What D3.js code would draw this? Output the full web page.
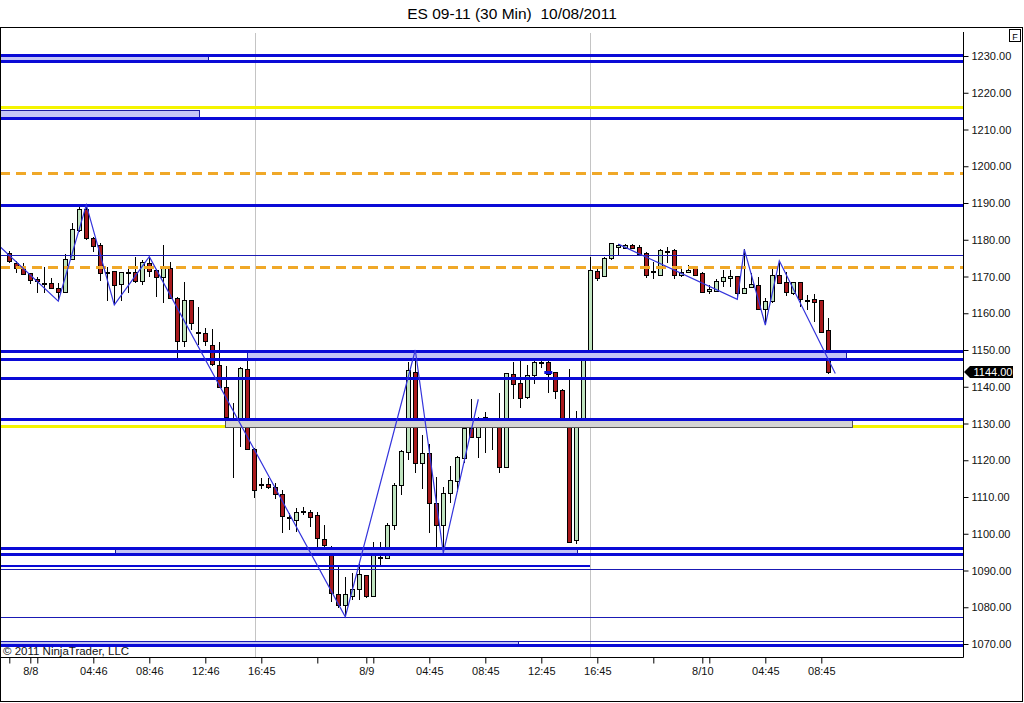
<!DOCTYPE html>
<html>
<head>
<meta charset="utf-8">
<script src="https://cdn.jsdelivr.net/npm/d3@7"></script>
<style>
  body { margin: 0; background: #fff; }
  svg { display: block; font-family: "Liberation Sans", Arial, sans-serif; }
  .axis text { font-size: 11px; fill: #111; }
  .axis line { stroke: #000; }
  .axis path { display: none; }
</style>
</head>
<body>
<svg width="1024" height="703"></svg>
<script>
// 30 min bars, ES 09-11, 8/8 - 8/10
var opens = [1176.3,1173.6,1172.7,1170.9,1169.2,1168.1,1168.1,1166.8,1165.6,1174.7,
  1182.7,1188.5,1180.6,1178.6,1171.3,1171.5,1167.7,1171.1,1171.1,1168.9,
  1173.6,1171.8,1169.8,1172.2,1164.1,1152.5,1163.6,1155.0,1154.5,1151.4,
  1145.9,1140.0,1131.1,1130.0,1144.7,1123.0,1113.5,1113.5,1112.8,1110.8,
  1104.5,1103.9,1106.2,1106.0,1105.1,1098.5,1095.6,1083.5,1080.6,1083.3,
  1084.9,1088.9,1083.1,1093.6,1093.3,1102.4,1113.3,1122.3,1144.1,1119.3,
  1122.1,1108.5,1102.4,1111.0,1114.6,1120.5,1128.7,1126.2,1131.7,1129.9,
  1129.0,1118.2,1143.5,1141.1,1137.1,1143.2,1146.8,1146.8,1143.9,1139.1,
  1130.2,1098.3,1130.5,1148.2,1171.6,1169.9,1174.9,1178.1,1177.9,1178.6,
  1178.1,1176.3,1171.6,1170.4,1177.0,1177.2,1170.4,1171.3,1172.2,1171.0,
  1165.9,1166.3,1168.6,1169.5,1170.1,1165.6,1167.0,1167.7,1161.3,1163.4,
  1170.4,1168.4,1165.4,1168.4,1163.6,1163.8,1163.6,1155.4];
var highs = [1176.9,1174.2,1173.6,1171.0,1169.8,1172.5,1169.5,1168.1,1176.0,1184.5,
  1189.0,1189.5,1180.8,1179.2,1172.7,1171.5,1171.3,1172.2,1175.4,1174.5,
  1175.4,1172.0,1178.6,1174.0,1164.5,1168.6,1163.6,1161.8,1156.0,1155.6,
  1152.3,1145.6,1135.5,1145.5,1147.7,1123.2,1115.1,1115.1,1113.7,1111.9,
  1105.7,1106.9,1107.4,1106.5,1106.0,1102.4,1096.7,1090.9,1088.3,1089.2,
  1091.9,1088.9,1097.8,1097.8,1103.0,1113.7,1122.8,1146.8,1150.0,1127.0,
  1124.4,1115.5,1112.8,1118.4,1121.2,1130.9,1136.8,1131.9,1133.2,1130.5,
  1138.2,1143.8,1146.8,1148.2,1145.9,1149.1,1148.9,1147.7,1144.1,1139.3,
  1144.7,1133.4,1149.1,1175.4,1172.2,1175.2,1179.2,1178.8,1178.8,1178.8,
  1178.6,1176.8,1174.0,1177.4,1178.1,1177.4,1172.2,1173.1,1172.5,1171.3,
  1167.7,1169.2,1171.9,1171.8,1170.1,1177.4,1170.9,1169.9,1164.1,1172.2,
  1174.3,1171.3,1168.6,1168.6,1165.0,1165.2,1163.6,1158.6];
var lows = [1173.6,1170.9,1170.4,1167.9,1165.4,1165.4,1166.7,1163.3,1165.4,1174.5,
  1182.2,1179.8,1176.8,1168.9,1163.2,1162.3,1163.2,1165.4,1168.1,1167.7,
  1170.0,1164.3,1162.7,1164.1,1147.6,1150.9,1155.4,1151.4,1151.0,1145.7,
  1139.6,1131.4,1115.1,1123.7,1123.0,1109.6,1112.1,1112.3,1109.4,1100.1,
  1101.0,1100.6,1105.1,1101.9,1096.5,1094.9,1081.5,1079.7,1077.4,1081.9,
  1081.9,1082.4,1083.1,1091.0,1093.3,1101.0,1110.5,1120.1,1116.6,1112.1,
  1100.1,1096.5,1094.8,1108.3,1111.4,1119.2,1126.0,1120.5,1121.9,1122.8,
  1116.6,1118.2,1136.8,1134.1,1136.8,1140.7,1145.0,1138.4,1136.8,1129.6,
  1097.4,1097.2,1130.5,1147.7,1168.9,1169.9,1174.5,1175.8,1177.7,1177.4,
  1175.8,1169.5,1169.2,1170.4,1173.6,1169.2,1170.0,1170.9,1170.1,1165.4,
  1165.2,1166.1,1167.2,1167.2,1163.8,1165.4,1166.8,1160.9,1156.8,1162.7,
  1168.0,1164.7,1165.0,1161.8,1160.9,1157.7,1155.0,1143.6];
var closes = [1174.0,1172.2,1170.9,1168.9,1168.6,1168.1,1166.7,1165.6,1174.7,1182.8,
  1188.5,1180.6,1178.3,1171.1,1171.3,1167.7,1171.1,1171.1,1168.6,1174.0,
  1171.3,1170.0,1172.2,1164.1,1152.5,1163.6,1157.4,1155.0,1152.2,1146.2,
  1140.0,1131.9,1131.1,1145.0,1123.0,1111.9,1113.5,1112.6,1110.8,1104.8,
  1104.5,1106.0,1106.2,1104.6,1098.8,1097.0,1083.8,1080.6,1083.5,1085.1,
  1089.0,1083.1,1095.0,1093.6,1102.4,1113.3,1122.5,1144.6,1119.3,1122.1,
  1108.5,1102.4,1111.2,1114.6,1121.0,1128.7,1126.2,1131.4,1129.9,1129.9,
  1118.2,1143.7,1140.9,1137.1,1143.2,1146.8,1146.8,1143.6,1138.7,1130.0,
  1097.8,1130.5,1147.7,1171.9,1169.8,1174.9,1179.0,1178.7,1178.6,1177.7,
  1176.1,1170.4,1171.6,1177.2,1177.0,1170.4,1171.3,1171.9,1170.4,1165.9,
  1166.5,1168.9,1169.8,1170.1,1165.6,1167.0,1167.9,1161.3,1163.4,1170.4,
  1168.3,1165.6,1168.4,1163.8,1163.6,1163.1,1155.0,1144.0];

// time axis
var tickBars = [0, 3, 4, 12, 20, 28, 36, 44, 51, 52, 60, 68, 76, 84, 92, 99, 100, 108, 116];
var labelBars = [3, 12, 20, 28, 36, 51, 60, 68, 76, 84, 99, 108, 116];
var labelTexts = ["8/8", "04:46", "08:46", "12:46", "16:45", "8/9", "04:45", "08:45", "12:45", "16:45", "8/10", "04:45", "08:45"];
var sessionBars = [35.1, 83];
var priceTicks = d3.range(1070, 1231, 10);

// drawn levels
var blueLevels = [1230.4, 1228.6, 1213.0, 1189.5, 1149.7, 1147.6, 1142.5, 1131.2, 1096.0, 1094.4, 1069.8];
var thinLevels = [1175.9, 1090.5, 1077.3, 1070.9];
var yellowLevels = [1216.0, 1129.3];
var orangeLevels = [1198.2, 1172.6];
var partialLevel = 1091.2, partialEnd = 83;
var zoneTops = [1230.2, 1215.3, 1149.5, 1131.0, 1095.8, 1070.8];
var zoneBottoms = [1228.8, 1213.2, 1147.8, 1129.1, 1094.6, 1069.9];
var zoneStarts = [-3, -3, 34.0, 30.8, 15.1, -3];
var zoneEnds = [28.5, 27.2, 119.5, 120.4, 81.1, 72.7];
var zoneGray = [false, false, false, true, false, false];

// zigzag pivots
var zig1Bars = [-1.33, 7, 11, 15, 20, 48, 58, 62, 67];
var zig1Prices = [1178.1, 1163.3, 1189.5, 1162.3, 1175.4, 1077.4, 1150.0, 1094.8, 1136.6];
var zig2Bars = [87, 104, 105, 108, 110, 118];
var zig2Prices = [1178.8, 1163.8, 1177.4, 1156.8, 1174.3, 1143.6];
var markBar = 77, markPrice = 1144.0;

var svg = d3.select("svg");
var plotLeft = 1, plotRight = 963, plotTop = 28, plotBottom = 657;

var x = d3.scaleLinear().domain([0, 117]).range([9.3, 828.3]);
var y = d3.scaleLinear().domain([1070, 1230]).range([644, 56]);

svg.append("text")
    .attr("x", 512).attr("y", 19)
    .attr("text-anchor", "middle")
    .style("font-size", "15.5px")
    .style("white-space", "pre")
    .attr("xml:space", "preserve")
    .text("ES 09-11 (30 Min)  10/08/2011");

svg.append("defs").append("clipPath").attr("id", "plot")
    .append("rect")
    .attr("x", plotLeft).attr("y", plotTop)
    .attr("width", plotRight - plotLeft).attr("height", plotBottom - plotTop);

var g = svg.append("g").attr("clip-path", "url(#plot)");

// session separators
g.selectAll(".sess")
    .data(sessionBars)
    .enter().append("line")
    .attr("x1", function(d) { return Math.round(x(d)) + 0.5; })
    .attr("x2", function(d) { return Math.round(x(d)) + 0.5; })
    .attr("y1", 33).attr("y2", plotBottom)
    .attr("stroke", "#c4c4c4");

var bars = d3.range(opens.length);

// wicks
g.selectAll(".wick")
    .data(bars)
    .enter().append("line")
    .attr("x1", function(i) { return Math.round(x(i)) + 0.5; })
    .attr("x2", function(i) { return Math.round(x(i)) + 0.5; })
    .attr("y1", function(i) { return Math.round(y(highs[i])); })
    .attr("y2", function(i) { return Math.round(y(lows[i])); })
    .attr("stroke", "#000");

// bodies
g.selectAll(".body")
    .data(bars)
    .enter().append("rect")
    .attr("x", function(i) { return Math.round(x(i)) - 1.5; })
    .attr("width", 4)
    .attr("y", function(i) { return Math.round(y(Math.max(opens[i], closes[i]))) + 0.5; })
    .attr("height", function(i) { return Math.max(1, Math.round(y(Math.min(opens[i], closes[i])) - y(Math.max(opens[i], closes[i])))); })
    .attr("fill", function(i) { return closes[i] > opens[i] ? "#bfe3bf" : (closes[i] < opens[i] ? "#a8191c" : "#000"); })
    .attr("stroke", "#000")
    .attr("stroke-width", 1)
    .attr("shape-rendering", "crispEdges");

function py(level, width) {
    var v = Math.round(y(level));
    return width % 2 ? v + 0.5 : v;
}

function hline(level, color, width, x1, x2, dash) {
    var l = g.append("line")
        .attr("x1", x1).attr("x2", x2)
        .attr("y1", py(level, width)).attr("y2", py(level, width))
        .attr("stroke", color)
        .attr("stroke-width", width)
        .attr("shape-rendering", "crispEdges");
    if (dash) l.attr("stroke-dasharray", dash);
    return l;
}

yellowLevels.forEach(function(v) { hline(v, "#f4f400", 3, 0, plotRight); });
orangeLevels.forEach(function(v) { hline(v, "#f0a828", 3, 0, plotRight, "10,6"); });

// zones
g.selectAll(".zone")
    .data(d3.range(zoneTops.length))
    .enter().append("rect")
    .attr("x", function(i) { return Math.round(x(zoneStarts[i])) + 0.5; })
    .attr("y", function(i) { return Math.round(y(zoneTops[i])) + 0.5; })
    .attr("width", function(i) { return Math.round(x(zoneEnds[i]) - x(zoneStarts[i])); })
    .attr("height", function(i) { return Math.round(y(zoneBottoms[i]) - y(zoneTops[i])); })
    .attr("fill", function(i) { return zoneGray[i] ? "#d4d4d4" : "#c4c4f6"; })
    .attr("stroke", function(i) { return zoneGray[i] ? "#555" : "#1a1aa0"; })
    .attr("stroke-width", 1)
    .attr("shape-rendering", "crispEdges");

blueLevels.forEach(function(v) { hline(v, "#0a0ad6", 3, 0, plotRight); });
hline(partialLevel, "#0a0ad6", 2, 0, x(partialEnd));
thinLevels.forEach(function(v) { hline(v, "#1a1ab4", 1, 0, plotRight); });

// small marker
g.append("line")
    .attr("x1", x(markBar) - 4).attr("x2", x(markBar) + 4)
    .attr("y1", py(markPrice, 3)).attr("y2", py(markPrice, 3))
    .attr("stroke", "#0a0ad6").attr("stroke-width", 3);

// zigzag
var zz = d3.line()
    .x(function(d) { return x(d[0]); })
    .y(function(d) { return y(d[1]); });

[[zig1Bars, zig1Prices], [zig2Bars, zig2Prices]].forEach(function(z) {
    g.append("path")
        .datum(z[0].map(function(b, k) { return [b, z[1][k]]; }))
        .attr("d", zz)
        .attr("fill", "none")
        .attr("stroke", "#3434dc")
        .attr("stroke-width", 1.2);
});

// frame
svg.append("rect")
    .attr("x", 0.5).attr("y", 27.5)
    .attr("width", 1022).attr("height", 674)
    .attr("fill", "none").attr("stroke", "#000");

svg.append("line")
    .attr("x1", plotRight + 0.5).attr("x2", plotRight + 0.5)
    .attr("y1", 32).attr("y2", plotBottom + 0.5)
    .attr("stroke", "#000");
svg.append("line")
    .attr("x1", 0).attr("x2", plotRight + 0.5)
    .attr("y1", plotBottom + 0.5).attr("y2", plotBottom + 0.5)
    .attr("stroke", "#000");

// price axis
svg.append("g")
    .attr("class", "axis y")
    .attr("transform", "translate(" + (plotRight + 0.5) + ",0)")
    .call(d3.axisRight(y).tickValues(priceTicks).tickFormat(d3.format(".2f")).tickSize(5).tickPadding(3));

// time axis
svg.append("g")
    .attr("class", "axis x")
    .attr("transform", "translate(0," + (plotBottom + 0.5) + ")")
    .call(d3.axisBottom(x).tickValues(tickBars)
        .tickFormat(function(d) { var k = labelBars.indexOf(d); return k < 0 ? "" : labelTexts[k]; })
        .tickSize(6).tickPadding(4));

// last price marker
var lastY = Math.round(y(closes[closes.length - 1]));
svg.append("path")
    .attr("d", "M964," + lastY + "L970," + (lastY - 6) + "H1013V" + (lastY + 6) + "H970Z")
    .attr("fill", "#000");
svg.append("text")
    .attr("x", 993).attr("y", lastY + 4)
    .attr("text-anchor", "middle")
    .style("font-size", "11px")
    .attr("fill", "#fff")
    .text(d3.format(".2f")(closes[closes.length - 1]));

// F box
svg.append("rect")
    .attr("x", 1009.5).attr("y", 29.5).attr("width", 11).attr("height", 12)
    .attr("fill", "#fff").attr("stroke", "#000");
svg.append("text")
    .attr("x", 1015).attr("y", 39.5)
    .attr("text-anchor", "middle")
    .style("font-size", "9px")
    .text("F");

svg.append("text")
    .attr("x", 3).attr("y", 654.5)
    .style("font-size", "11.5px")
    .attr("fill", "#111")
    .text("\u00a9 2011 NinjaTrader, LLC");
</script>
</body>
</html>
